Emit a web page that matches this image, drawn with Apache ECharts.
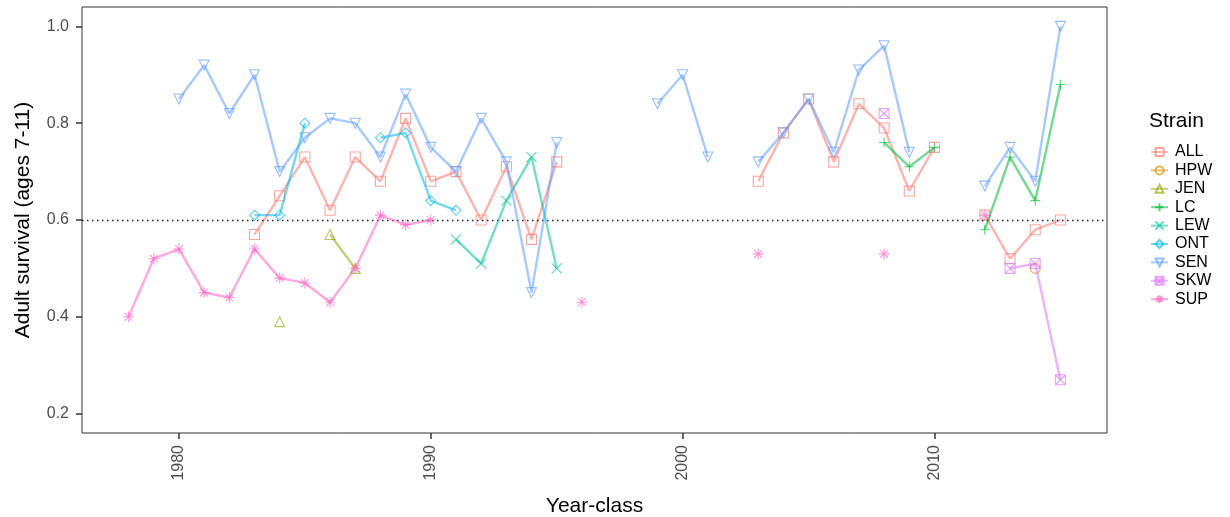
<!DOCTYPE html>
<html lang="en">
<head>
  <meta charset="UTF-8">
  <title>Adult survival by strain</title>
  <style>
    html, body { margin: 0; padding: 0; background: #fff; }
  </style>
</head>
<body>
  <div id="main" style="width: 1230px; height: 517px"></div>
  <script src="https://cdn.jsdelivr.net/npm/echarts@6/dist/echarts.min.js"></script>
  <script>
    // year-classes 1978 .. 2015, one value per year (null = no estimate)
    const years = [1978, 1979, 1980, 1981, 1982, 1983, 1984, 1985, 1986, 1987,
                   1988, 1989, 1990, 1991, 1992, 1993, 1994, 1995, 1996, 1997,
                   1998, 1999, 2000, 2001, 2002, 2003, 2004, 2005, 2006, 2007,
                   2008, 2009, 2010, 2011, 2012, 2013, 2014, 2015]
    const n = null

    const ALL = [n, n, n, n, n, .57, .65, .73, .62, .73, .68, .81, .68, .70, .60, .71, .56, .72, n, n,
                 n, n, n, n, n, .68, .78, .85, .72, .84, .79, .66, .75, n, .61, .52, .58, .60]
    const HPW = [n, n, n, n, n, n, n, n, n, n, n, n, n, n, n, n, n, n, n, n,
                 n, n, n, n, n, n, n, n, n, n, n, n, n, n, n, n, .50, n]
    const JEN = [n, n, n, n, n, n, .39, n, .57, .50, n, n, n, n, n, n, n, n, n, n,
                 n, n, n, n, n, n, n, n, n, n, n, n, n, n, n, n, n, n]
    const LC  = [n, n, n, n, n, n, n, n, n, n, n, n, n, n, n, n, n, n, n, n,
                 n, n, n, n, n, n, n, n, n, n, .76, .71, .75, n, .58, .73, .64, .88]
    const LEW = [n, n, n, n, n, n, n, n, n, n, n, n, n, .56, .51, .64, .73, .50, n, n,
                 n, n, n, n, n, n, n, n, n, n, n, n, n, n, n, n, n, n]
    const ONT = [n, n, n, n, n, .61, .61, .80, n, n, .77, .78, .64, .62, n, n, n, n, n, n,
                 n, n, n, n, n, n, n, n, n, n, n, n, n, n, n, n, n, n]
    const SEN = [n, n, .85, .92, .82, .90, .70, .77, .81, .80, .73, .86, .75, .70, .81, .72, .45, .76, n, n,
                 n, .84, .90, .73, n, .72, .78, .85, .74, .91, .96, .74, n, n, .67, .75, .68, 1.00]
    const SKW = [n, n, n, n, n, n, n, n, n, n, n, n, n, n, n, n, n, n, n, n,
                 n, n, n, n, n, n, n, n, n, n, .82, n, n, n, n, .50, .51, .27]
    const SUP = [.40, .52, .54, .45, .44, .54, .48, .47, .43, .50, .61, .59, .60, n, n, n, n, n, .43, n,
                 n, n, n, n, n, .53, n, n, n, n, .53, n, n, n, .61, n, n, n]

    const strains = ['ALL', 'HPW', 'JEN', 'LC', 'LEW', 'ONT', 'SEN', 'SKW', 'SUP']
    const values = [ALL, HPW, JEN, LC, LEW, ONT, SEN, SKW, SUP]
    const xTicks = [1980, 1990, 2000, 2010]
    const yTicks = [0.2, 0.4, 0.6, 0.8, 1.0]
    const threshold = 0.6

    // ggplot default hue palette
    const colors = ['248,118,109', '211,146,0', '147,170,0', '0,186,56', '0,193,159',
                    '0,185,227', '97,156,255', '219,114,251', '255,97,195']
    const symbols = [
      'rect',
      'circle',
      'triangle',
      'path://M5,0L5,10M0,5L10,5',
      'path://M0,0L10,10M10,0L0,10',
      'diamond',
      'triangle',
      'path://M0,0L10,0L10,10L0,10ZM0,0L10,10M10,0L0,10',
      'path://M5,0L5,10M0,5L10,5M1.5,1.5L8.5,8.5M8.5,1.5L1.5,8.5'
    ]

    const font = '"Liberation Sans", Arial, sans-serif'

    let myChart = echarts.init(document.getElementById('main'))

    let series = strains.map(function(name, i) {
      let s = {
        name: name,
        type: 'line',
        data: years.map(function(y, k) {
          return [y, values[i][k] === null ? '-' : values[i][k]]
        }),
        symbol: symbols[i],
        symbolSize: i === 8 ? 11 : 10,
        symbolRotate: name === 'SEN' ? 180 : 0,
        showAllSymbol: true,
        connectNulls: false,
        lineStyle: { color: 'rgba(' + colors[i] + ',0.55)', width: 2.4 },
        itemStyle: {
          color: 'rgba(255,255,255,0)',
          borderColor: 'rgba(' + colors[i] + ',0.65)',
          borderWidth: 1.1
        },
        emphasis: { disabled: true },
        z: 2 + i
      }
      if (i === 0) {
        // dotted reference line
        s.markLine = {
          silent: true,
          symbol: ['none', 'none'],
          label: { show: false },
          lineStyle: { color: '#222', type: [1.5, 3.5], width: 1.3 },
          data: [{ yAxis: threshold }]
        }
      }
      return s
    })

    let option = {
      animation: false,
      title: {
        text: 'Strain',
        left: 1144,
        top: 106,
        textStyle: { fontFamily: font, fontSize: 21, fontWeight: 'normal', color: '#000' }
      },
      legend: {
        orient: 'vertical',
        left: 1145,
        top: 139,
        itemWidth: 17,
        itemHeight: 10,
        itemGap: 2.4,
        textStyle: { fontFamily: font, fontSize: 16, color: '#000', padding: [0, 0, 0, 2] },
        data: strains
      },
      grid: {
        left: 82,
        right: 123,
        top: 7,
        bottom: 84,
        outerBoundsMode: 'none',
        show: true,
        borderColor: '#333',
        borderWidth: 1,
        backgroundColor: '#fff'
      },
      xAxis: {
        type: 'value',
        min: 1976.15,
        max: 2016.85,
        name: 'Year-class',
        nameLocation: 'middle',
        nameGap: 63,
        nameTextStyle: { fontFamily: font, fontSize: 21, color: '#000' },
        axisLine: { show: false },
        splitLine: { show: false },
        axisTick: { show: true, length: 6, lineStyle: { color: '#333', width: 1.5 }, customValues: xTicks },
        axisLabel: {
          customValues: xTicks,
          rotate: 90,
          margin: 12,
          fontFamily: font,
          fontSize: 16,
          color: '#4d4d4d',
          formatter: function(v) { return String(v) }
        }
      },
      yAxis: {
        type: 'value',
        min: 0.16,
        max: 1.04,
        name: 'Adult survival (ages 7-11)',
        nameLocation: 'middle',
        nameGap: 48,
        nameTextStyle: { fontFamily: font, fontSize: 21, color: '#000' },
        axisLine: { show: false },
        splitLine: { show: false },
        axisTick: { show: true, length: 6, lineStyle: { color: '#333', width: 1.5 }, customValues: yTicks },
        axisLabel: {
          customValues: yTicks,
          margin: 13,
          fontFamily: font,
          fontSize: 16,
          color: '#4d4d4d',
          formatter: function(v) { return v.toFixed(1) }
        }
      },
      series: series
    }

    myChart.setOption(option)
  </script>
</body>
</html>
